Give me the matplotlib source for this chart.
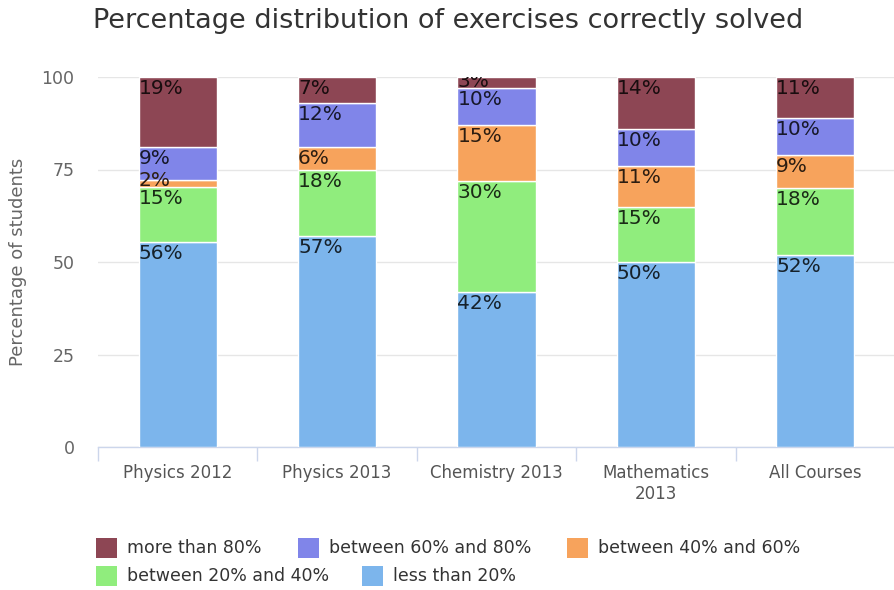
import matplotlib
matplotlib.use('Agg')
import matplotlib.pyplot as plt
from matplotlib.patches import Rectangle
import numpy as np

categories = ['Physics 2012', 'Physics 2013', 'Chemistry 2013', 'Mathematics\n2013', 'All Courses']
series_names = ['more than 80%', 'between 60% and 80%', 'between 40% and 60%',
                'between 20% and 40%', 'less than 20%']
more_80 = [19, 7, 3, 14, 11]
btw_60_80 = [9, 12, 10, 10, 10]
btw_40_60 = [2, 6, 15, 11, 9]
btw_20_40 = [15, 18, 30, 15, 18]
less_20 = [56, 57, 42, 50, 52]
colors = ['#8d4654', '#8085e9', '#f7a35c', '#90ed7d', '#7cb5ec']
yticks = [0, 25, 50, 75, 100]

series = [more_80, btw_60_80, btw_40_60, btw_20_40, less_20]

W, H = 895, 590
fig = plt.figure(figsize=(W / 100, H / 100), dpi=100)
ax = fig.add_axes([98 / W, 143 / H, 797 / W, 370 / H])

font = 'DejaVu Sans'

data = np.array(series, dtype=float)
totals = data.sum(axis=0)
pct = data / totals * 100
x = np.arange(len(categories))
bw = 0.49

# stack from bottom: last series is at the bottom
bottom = np.zeros(len(categories))
for k in range(len(series) - 1, -1, -1):
    ax.bar(x, pct[k], bw, bottom=bottom, color=colors[k], edgecolor='white',
           linewidth=1, zorder=3)
    c = tuple(int(colors[k][i:i + 2], 16) / 255 * 0.18 for i in (1, 3, 5))
    for i in range(len(categories)):
        top = bottom[i] + pct[k][i]
        if pct[k][i] >= 4.5:
            ax.annotate(f'{series[k][i]}%', (x[i] - bw / 2, top), xytext=(0, -1.5),
                        textcoords='offset points', ha='left', va='top',
                        fontsize=14.5, color=c, family=font,
                        zorder=5, annotation_clip=False, clip_on=True)
        else:
            ax.annotate(f'{series[k][i]}%', (x[i] - bw / 2, bottom[i]),
                        xytext=(0, 0.5), textcoords='offset points', ha='left',
                        va='baseline', fontsize=14.5, color=c, family=font,
                        zorder=5, annotation_clip=False, clip_on=True)
    bottom += pct[k]

ax.set_xlim(-0.5, len(categories) - 0.5)
ax.set_ylim(0, 100)
ax.set_yticks(yticks)
ax.set_yticklabels([str(v) for v in yticks])
ax.grid(axis='y', color='#e6e6e6', linewidth=1, zorder=0)
ax.set_axisbelow(True)
for s in ['top', 'right', 'left']:
    ax.spines[s].set_visible(False)
ax.spines['bottom'].set_color('#ccd6eb')
ax.spines['bottom'].set_linewidth(1)

ax.set_xticks(np.arange(-0.5, len(categories) + 0.5, 1))
ax.set_xticklabels([])
ax.tick_params(axis='x', which='major', length=10, color='#ccd6eb', width=1)
ax.set_xticks(x, minor=True)
ax.set_xticklabels(categories, minor=True, fontsize=12, color='#555555', family=font,
                   linespacing=1.25)
ax.tick_params(axis='x', which='minor', length=0, pad=12)
ax.tick_params(axis='y', length=0, pad=17, labelsize=12.5, labelcolor='#666666')
for t in ax.get_yticklabels():
    t.set_family(font)

ax.set_ylabel('Percentage of students', fontsize=13, color='#666666', family=font,
              labelpad=10)

fig.text(93 / W, 1 - 21 / H, 'Percentage distribution of exercises correctly solved',
         fontsize=19.5, color='#333333', family=font, ha='left', va='center')

# legend (row-major, like the original)
legend_pos = [(96, 548), (298, 548), (567, 548), (96, 576), (362, 576)]
for (lx, ly), name, col in zip(legend_pos, series_names, colors):
    fig.patches.append(Rectangle((lx / W, 1 - (ly + 10) / H), 21 / W, 20 / H,
                                 transform=fig.transFigure, facecolor=col,
                                 edgecolor='none'))
    fig.text((lx + 31) / W, 1 - ly / H, name, fontsize=12.5, color='#333333',
             family=font, ha='left', va='center')

fig.savefig('out.png', dpi=100)
